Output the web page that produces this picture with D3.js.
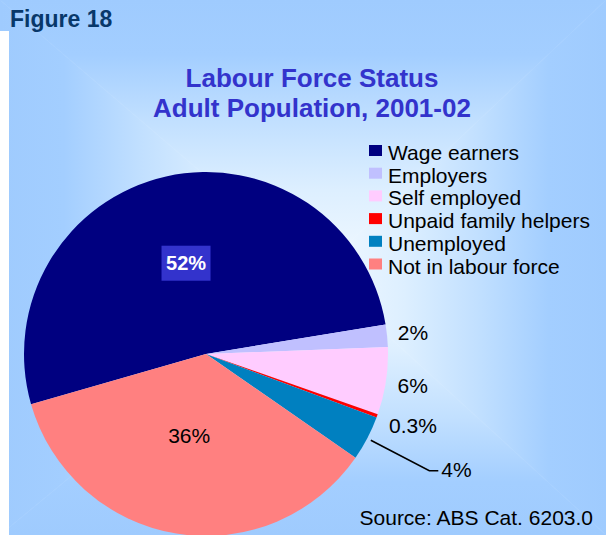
<!DOCTYPE html>
<html>
<head>
<meta charset="utf-8">
<script src="https://cdn.jsdelivr.net/npm/d3@7/dist/d3.min.js"></script>
<style>
  html, body { margin: 0; padding: 0; background: #fff; }
  svg { display: block; font-family: "Liberation Sans", Arial, sans-serif; }
</style>
</head>
<body>
<svg id="chart" width="606" height="535"></svg>
<script>
// Labour force status of the adult population, 2001-02 (per cent)
const categories = ["Wage earners", "Employers", "Self employed",
                    "Unpaid family helpers", "Unemployed", "Not in labour force"];
const shares = [52, 2, 6, 0.3, 4, 36];
const sliceColors = ["#000080", "#C0C0FF", "#FFCCFF", "#FF0000", "#0080C0", "#FF8080"];
const figureLabel = "Figure 18";
const titleLines = ["Labour Force Status", "Adult Population, 2001-02"];
const sourceNote = "Source: ABS Cat. 6203.0";

const W = 606, H = 535;
const svg = d3.select("#chart");
const defs = svg.append("defs");

// ---- background: rectangular path gradient built from four triangles ----
const gc = { x: 318, y: 272 };
const bgStops = [
  [0, "#F2F9FF"], [0.3, "#DDEFFF"], [0.55, "#C2E0FF"], [0.8, "#A3CEFF"], [1, "#9FCBFE"]
];
const sides = [
  { id: "gTop",    pts: [[0, 0], [W, 0]],  x1: gc.x, y1: gc.y, x2: gc.x, y2: 0 },
  { id: "gBottom", pts: [[0, H], [W, H]],  x1: gc.x, y1: gc.y, x2: gc.x, y2: H },
  { id: "gLeft",   pts: [[0, 0], [0, H]],  x1: gc.x, y1: gc.y, x2: 0,    y2: gc.y },
  { id: "gRight",  pts: [[W, 0], [W, H]],  x1: gc.x, y1: gc.y, x2: W,    y2: gc.y }
];
sides.forEach(s => {
  const g = defs.append("linearGradient").attr("id", s.id)
    .attr("gradientUnits", "userSpaceOnUse")
    .attr("x1", s.x1).attr("y1", s.y1).attr("x2", s.x2).attr("y2", s.y2);
  bgStops.forEach(([o, c]) => g.append("stop").attr("offset", o).attr("stop-color", c));
  svg.append("polygon")
    .attr("points", [[gc.x, gc.y], s.pts[0], s.pts[1]].map(p => p.join(",")).join(" "))
    .attr("fill", `url(#${s.id})`)
    .attr("stroke", `url(#${s.id})`).attr("stroke-width", 0.6);
});
// white margin strip down the left side below the header band
svg.append("rect").attr("x", 0).attr("y", 31).attr("width", 9).attr("height", H - 31).attr("fill", "#fff");

// ---- header and title ----
svg.append("text").attr("x", 10).attr("y", 27)
  .attr("font-size", 23).attr("font-weight", "bold").attr("fill", "#08386A")
  .text(figureLabel);

svg.append("g").selectAll("text").data(titleLines).join("text")
  .attr("x", 312).attr("y", (d, i) => 87 + i * 30)
  .attr("text-anchor", "middle")
  .attr("font-size", 26).attr("font-weight", "bold").attr("fill", "#3333CC")
  .text(d => d);

// ---- pie ----
const cx = 206, cy = 354, R = 182;
const deg = Math.PI / 180;
const pie = d3.pie().sort(null).value(d => d)
  .startAngle(-106 * deg).endAngle(-106 * deg + 2 * Math.PI);
const arcs = pie(shares);
const arc = d3.arc().innerRadius(0).outerRadius(R);
const pieG = svg.append("g").attr("transform", `translate(${cx},${cy})`);

pieG.selectAll("path").data(arcs).join("path")
  .attr("d", arc)
  .attr("fill", (d, i) => sliceColors[i]);

const pointAt = (a, r) => [r * Math.sin(a), -r * Math.cos(a)];
const mid = d => (d.startAngle + d.endAngle) / 2;
const fmt = v => `${v}%`;

// inside labels
const inner = d3.arc().innerRadius(R * 0.5).outerRadius(R * 0.5);
{
  const d = arcs[0];
  const [x, y] = inner.centroid(d);
  const lg = pieG.append("g").attr("transform", `translate(${x},${y - 2})`);
  lg.append("rect")
    .attr("x", -24.5).attr("y", -17.5).attr("width", 49).attr("height", 35)
    .attr("fill", "#3333CC");
  lg.append("text").attr("x", 0).attr("y", 0)
    .attr("text-anchor", "middle").attr("dy", "0.35em")
    .attr("font-size", 20).attr("font-weight", "bold").attr("fill", "#fff")
    .text(fmt(shares[0]));
}
{
  const d = arcs[5];
  const [x, y] = inner.centroid(d);
  pieG.append("text").attr("x", x - 2).attr("y", y - 8)
    .attr("text-anchor", "middle").attr("dy", "0.35em")
    .attr("font-size", 21).attr("fill", "#000")
    .text(fmt(shares[5]));
}

// outside labels for the small slices
const outsideRadius = { 1: 208, 2: 209, 3: 218 };
Object.keys(outsideRadius).forEach(k => {
  const i = +k, d = arcs[i];
  const [x, y] = pointAt(mid(d), outsideRadius[k]);
  pieG.append("text").attr("x", x + (i === 3 ? 2 : 0)).attr("y", y - (i === 3 ? 3 : 0))
    .attr("text-anchor", "middle").attr("dy", "0.35em")
    .attr("font-size", 21).attr("fill", "#000")
    .text(fmt(shares[i]));
});

// leader line for the unemployed slice
{
  const d = arcs[4];
  const a = mid(d);
  const p1 = pointAt(a, R + 4), p2 = pointAt(a, 252);
  const p3 = [p2[0] + 9, p2[1]];
  pieG.append("path")
    .attr("d", d3.line()([p1, p2, p3]))
    .attr("fill", "none").attr("stroke", "#000").attr("stroke-width", 1.6);
  pieG.append("text").attr("x", p3[0] + 3).attr("y", p3[1] - 1)
    .attr("dy", "0.35em").attr("font-size", 21).attr("fill", "#000")
    .text(fmt(shares[4]));
}

// ---- legend ----
const legend = svg.append("g").selectAll("g").data(categories).join("g")
  .attr("transform", (d, i) => `translate(369,${160 + i * 22.7})`);
legend.append("rect").attr("x", 0).attr("y", -15).attr("width", 13).attr("height", 11)
  .attr("fill", (d, i) => sliceColors[i]);
legend.append("text").attr("x", 19).attr("y", 0)
  .attr("font-size", 21).attr("fill", "#000").text(d => d);

// ---- source note ----
svg.append("text").attr("x", 593).attr("y", 525)
  .attr("text-anchor", "end").attr("font-size", 21).attr("fill", "#000")
  .text(sourceNote);
</script>
</body>
</html>
